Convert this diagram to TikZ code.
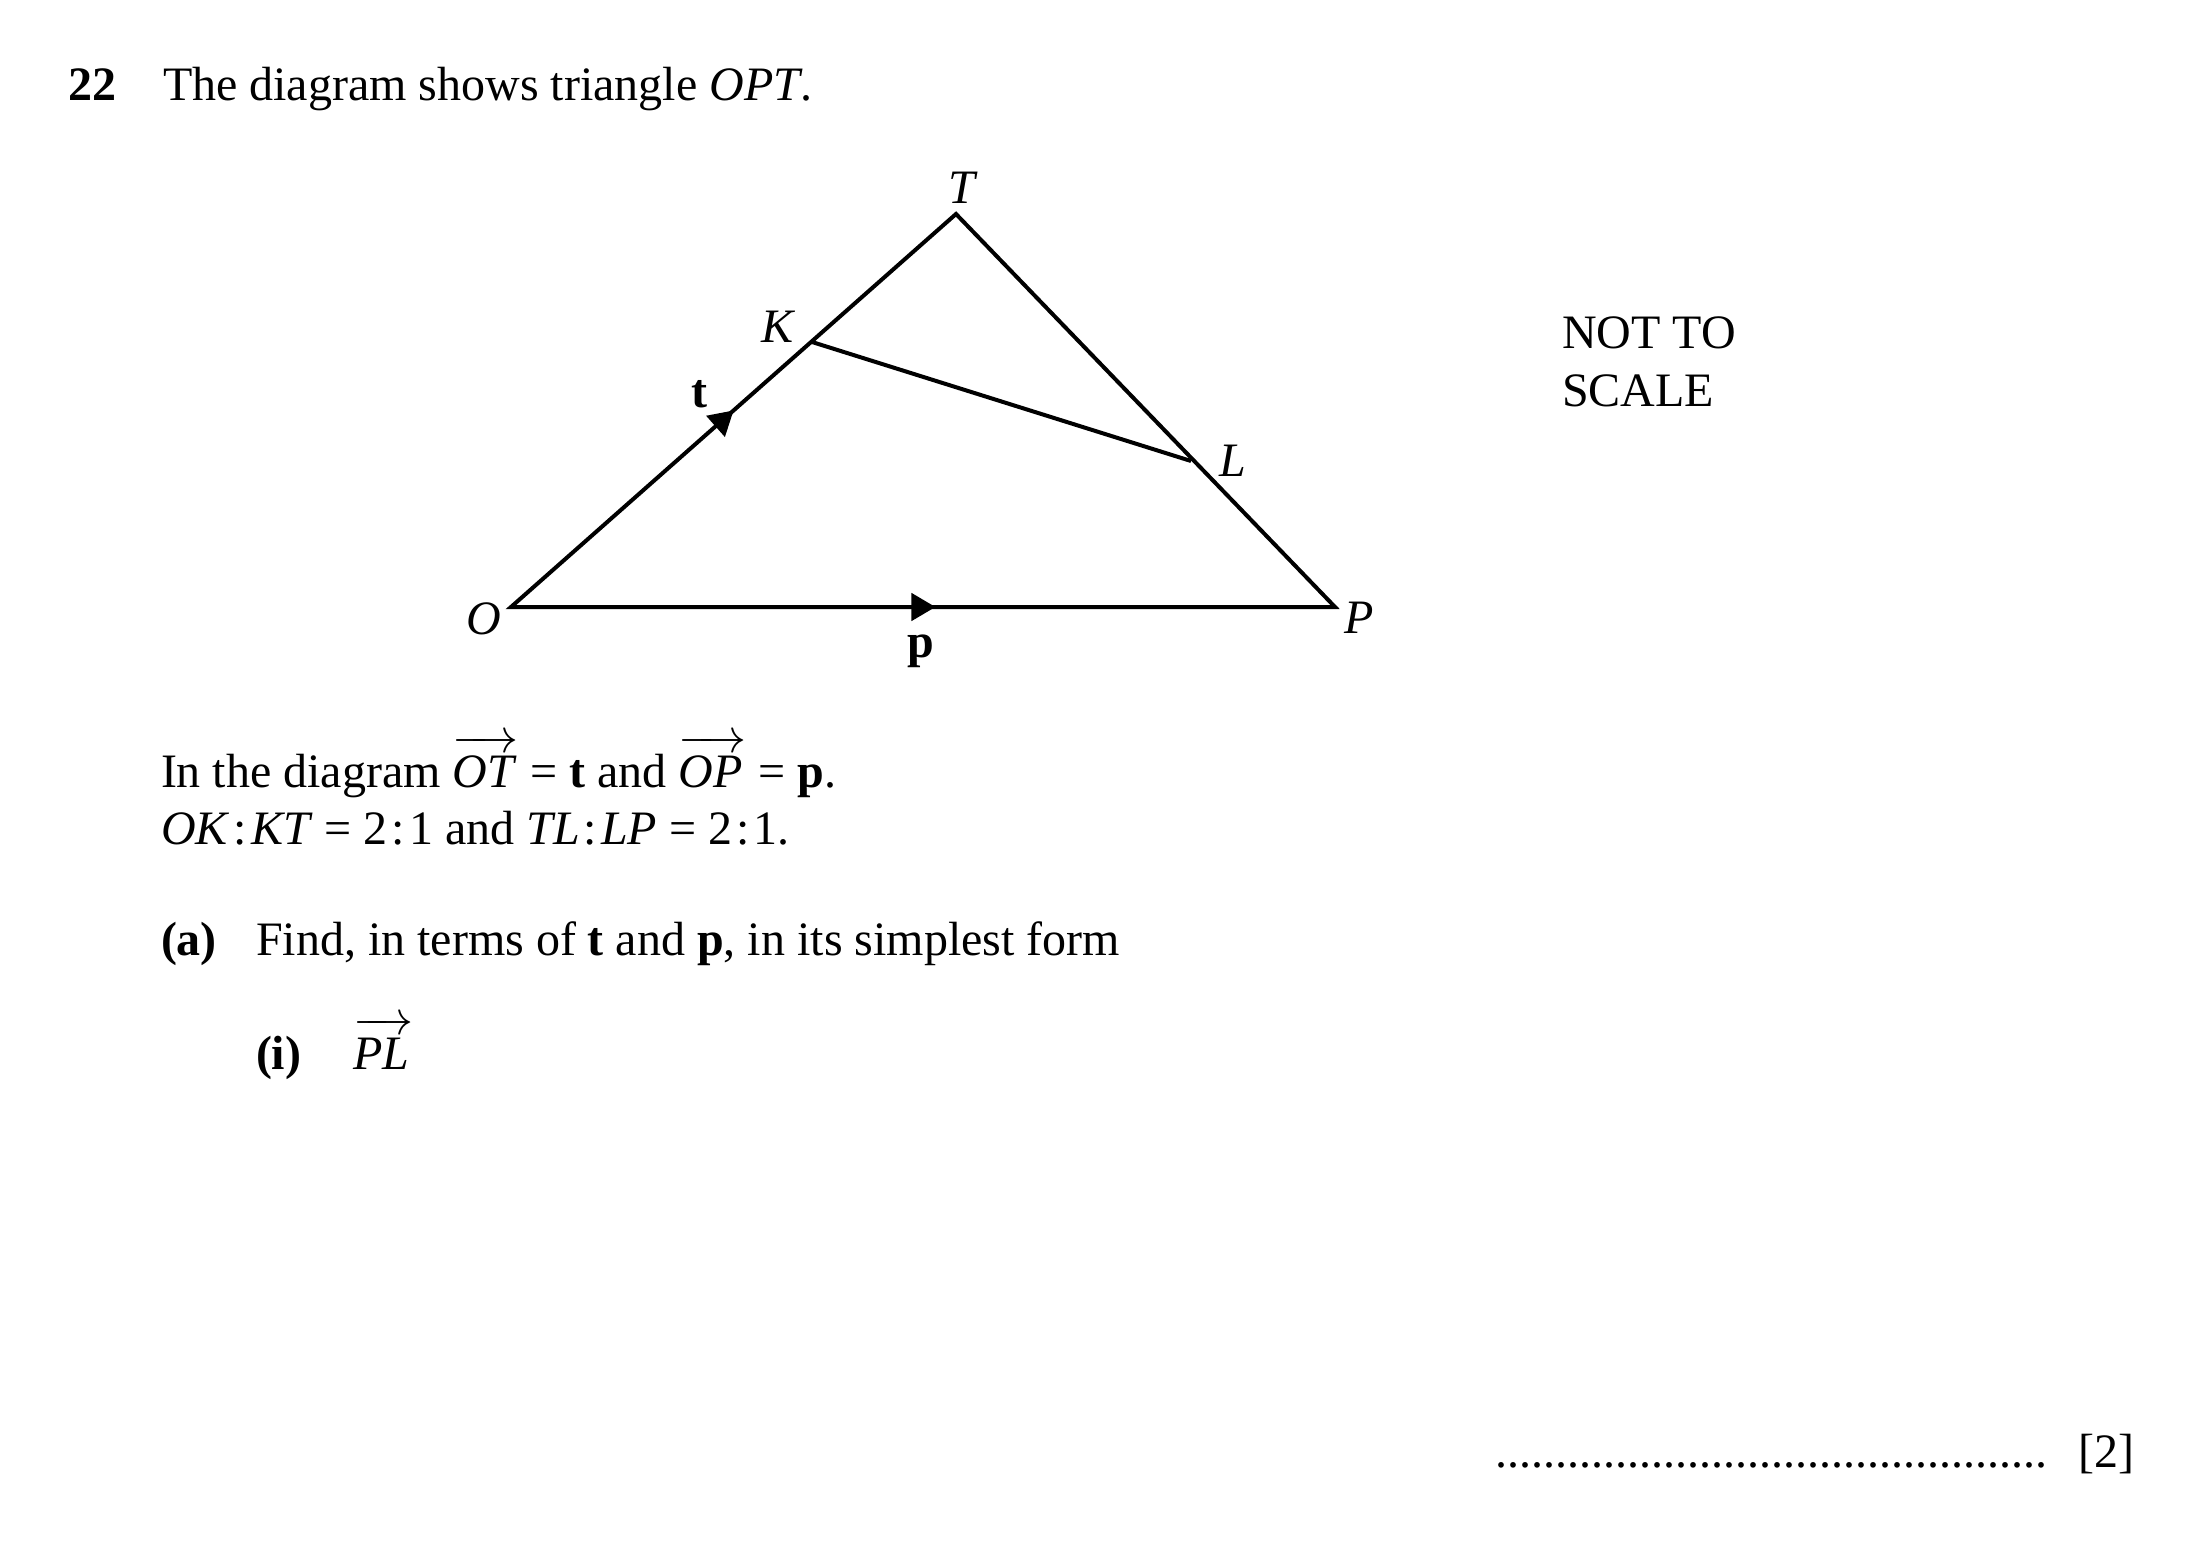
\documentclass[tikz,border=0pt]{standalone}
\usepackage{fontspec}
\setmainfont{Liberation Serif}
\usetikzlibrary{arrows.meta,decorations.markings}
\newcommand\vecar[1]{\ensuremath{\overrightarrow{\rule{0pt}{9.6pt}\textit{#1}\kern1pt}}}
\newcommand\rcolon{\kern1pt:\kern1pt}
\tikzset{
  txt/.style={anchor=base west, inner sep=0pt, outer sep=0pt, font=\fontsize{12}{14.4}\selectfont},
  lbl/.style={anchor=base, inner sep=0pt, outer sep=0pt, font=\fontsize{12}{14.4}\selectfont},
  edge/.style={line width=1pt, line join=miter},
  midarrow/.style={postaction={decorate}, decoration={markings, mark=at position #1 with {\arrow{Triangle[length=6pt,width=7pt]}}}}
}
\begin{document}
\begin{tikzpicture}[x=0.25pt, y=-0.25pt]
\useasboundingbox (0,0) rectangle (2196,1552);
% header
\node[txt] (num) at (68,100) {\textbf{22}};
\node[txt] (title) at (163,100) {The diagram shows triangle \textit{OPT}.};
% vertices
\coordinate (O) at (511,607);
\coordinate (P) at (1335,607);
\coordinate (T) at (956,214);
\coordinate (K) at (812,342);
\coordinate (L) at (1191,461);
\draw[edge] (O) -- (P) -- (T) -- cycle;
\draw[edge] (K) -- (L);
\path[midarrow=0.515] (O) -- (P);
\path[midarrow=0.50] (O) -- (T);
% labels
\node[lbl] (lT) at (963,203) {\textit{T}};
\node[lbl] (lK) at (779,342) {\textit{K}};
\node[lbl] (lL) at (1233,476) {\textit{L}};
\node[lbl] (lO) at (484,634) {\textit{O}};
\node[lbl] (lP) at (1359,633) {\textit{P}};
\node[lbl] (lt) at (699,407) {\textbf{t}};
\node[lbl] (lp) at (921,657) {\textbf{p}};
% not to scale
\node[txt] (nts1) at (1562,348) {NOT TO};
\node[txt] (nts2) at (1562,406) {SCALE};
% text
\node[txt] (line1) at (161,787) {In the diagram \vecar{OT} = \textbf{t} and \vecar{OP} = \textbf{p}.};
\node[txt] (line2) at (161,844) {\textit{OK}\rcolon\textit{KT} = 2\rcolon1 and \textit{TL}\rcolon\textit{LP} = 2\rcolon1.};
\node[txt] (qa) at (161,955) {\textbf{(a)}};
\node[txt] (qatext) at (256,955) {Find, in terms of \textbf{t} and \textbf{p}, in its simplest form};
\node[txt] (qi) at (256,1069) {\textbf{(i)}};
\node[txt] (qitext) at (353,1069) {\vecar{PL}};
\node[txt] (dots) at (1495,1467) {..............................................};
\node[txt] (mark) at (2078,1467) {[2]};
\end{tikzpicture}
\end{document}
